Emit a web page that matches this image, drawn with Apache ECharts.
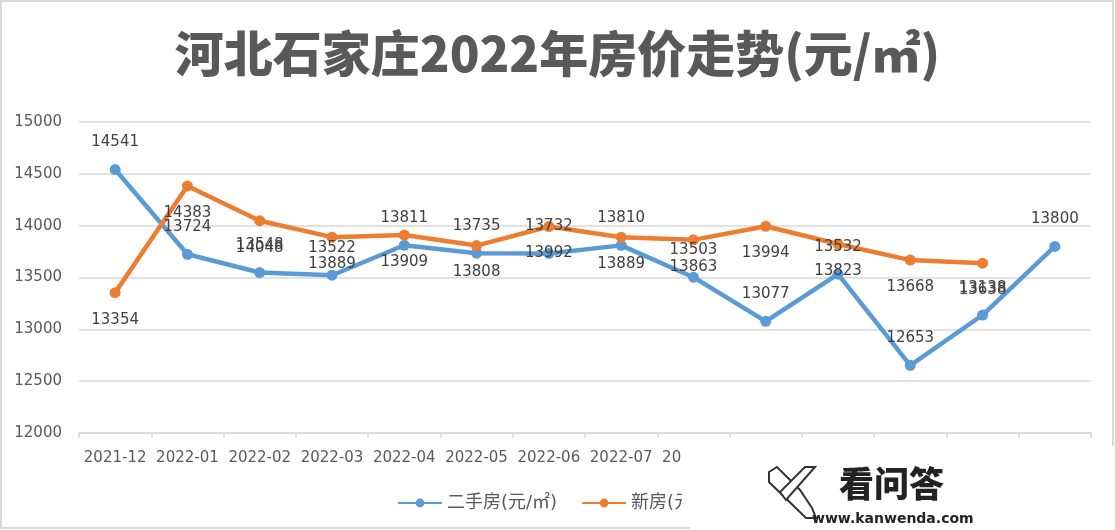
<!DOCTYPE html>
<html>
<head>
<meta charset="utf-8">
<script src="https://cdn.jsdelivr.net/npm/echarts@6/dist/echarts.min.js"></script>
<style>
html,body{margin:0;padding:0;background:#fff;}
#c{width:1115px;height:530px;}
</style>
</head>
<body>
<div id="c"></div>
<script>
var titleText = '河北石家庄2022年房价走势(元/㎡)';
var categories = ['2021-12','2022-01','2022-02','2022-03','2022-04','2022-05','2022-06','2022-07','2022-08','2022-09','2022-10','2022-11','2022-12','2023-01'];
var seriesNames = ['二手房(元/㎡)', '新房(元/㎡)'];
var secondHand = [14541, 13724, 13548, 13522, 13811, 13735, 13732, 13810, 13503, 13077, 13532, 12653, 13138, 13800];
var newHouse = [13354, 14383, 14048, 13889, 13909, 13808, 13992, 13889, 13863, 13994, 13823, 13668, 13638, null];
var yMin = 12000, yMax = 15000, yStep = 500;

var chart = echarts.init(document.getElementById('c'), null, {renderer: 'canvas'});
var numFont = 'DejaVu Sans, Noto Sans CJK SC, sans-serif';

chart.setOption({
  animation: false,
  backgroundColor: '#ffffff',
  title: {
    text: titleText,
    left: 'center',
    top: 24,
    textStyle: {
      fontFamily: 'Noto Sans CJK SC',
      fontWeight: 900,
      fontSize: 49,
      color: '#595959'
    }
  },
  legend: {
    top: 489,
    left: 392,
    itemWidth: 44,
    itemHeight: 11,
    itemGap: 24,
    data: seriesNames,
    textStyle: {fontFamily: numFont, fontSize: 18, color: '#595959'}
  },
  grid: {left: 79, right: 24, top: 122, bottom: 97, containLabel: false},
  xAxis: {
    type: 'category',
    data: categories,
    boundaryGap: true,
    axisLine: {lineStyle: {color: '#d9d9d9', width: 1.5}},
    axisTick: {show: true, interval: 0, length: 5, lineStyle: {color: '#d9d9d9', width: 1.5}},
    axisLabel: {interval: 0, margin: 18, fontFamily: numFont, fontSize: 15, color: '#595959'}
  },
  yAxis: {
    type: 'value',
    min: yMin,
    max: yMax,
    interval: yStep,
    axisLine: {show: false},
    axisTick: {show: false},
    axisLabel: {margin: 17, fontFamily: numFont, fontSize: 15, color: '#595959',
      formatter: function (v) { return String(v); }},
    splitLine: {lineStyle: {color: '#d9d9d9', width: 1.5}}
  },
  series: [
    {
      name: seriesNames[0],
      type: 'line',
      data: secondHand,
      symbol: 'circle',
      symbolSize: 11,
      itemStyle: {color: '#5b9bd5'},
      lineStyle: {color: '#5b9bd5', width: 4.5},
      label: {show: true, position: 'top', distance: 14, fontFamily: numFont, fontSize: 15, color: '#404040'}
    },
    {
      name: seriesNames[1],
      type: 'line',
      data: newHouse,
      symbol: 'circle',
      symbolSize: 11,
      itemStyle: {color: '#ed7d31'},
      lineStyle: {color: '#ed7d31', width: 4.5},
      label: {show: true, position: 'bottom', distance: 14, fontFamily: numFont, fontSize: 15, color: '#404040'}
    }
  ],
  graphic: [
    {type: 'rect', z: 100, silent: true, shape: {x: 1, y: 1, width: 1112, height: 527},
     style: {fill: 'none', stroke: '#d9d9d9', lineWidth: 2}},
    {type: 'rect', z: 110, silent: true, shape: {x: 682, y: 446, width: 433, height: 84},
     style: {fill: '#ffffff'}},
    {type: 'rect', z: 111, silent: true, shape: {x: 682, y: 527, width: 8, height: 2},
     style: {fill: '#d9d9d9'}},
    {type: 'polygon', z: 120, silent: true,
     shape: {points: [[769,472],[777,467],[800,490],[812,508],[816,518],[806,518],[769,482]]},
     style: {fill: '#ffffff', stroke: '#333333', lineWidth: 2}},
    {type: 'polygon', z: 121, silent: true,
     shape: {points: [[805,467],[815,467],[786,500],[780,492]]},
     style: {fill: '#ffffff', stroke: '#333333', lineWidth: 2}},
    {type: 'text', z: 120, silent: true, left: 839, top: 466,
     style: {text: '看问答', font: '900 35px "Noto Sans CJK SC"', fill: '#222222'}},
    {type: 'text', z: 120, silent: true, left: 812, top: 512,
     style: {text: 'www.kanwenda.com', font: 'bold 14px "DejaVu Sans"', fill: '#222222'}}
  ]
});
</script>
</body>
</html>
